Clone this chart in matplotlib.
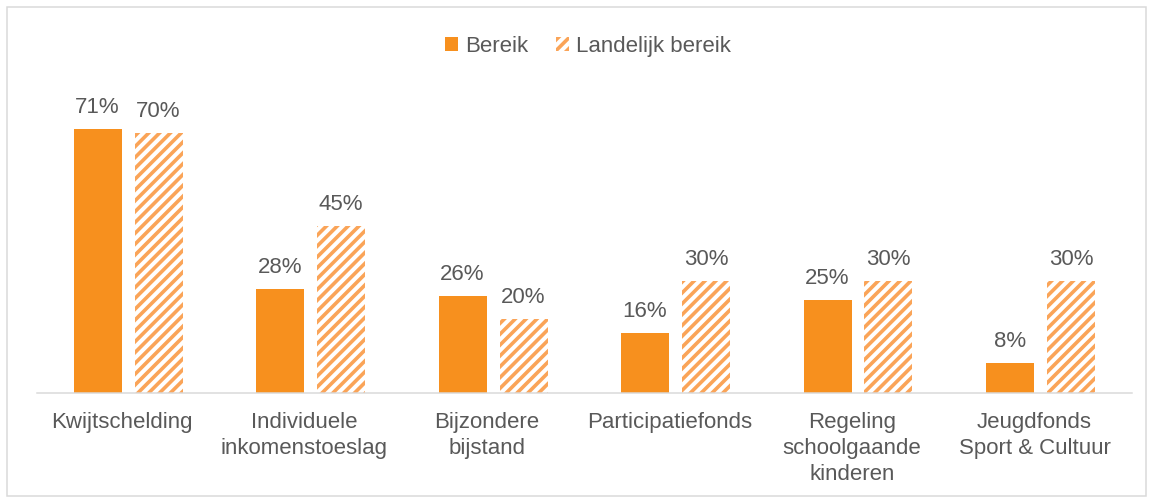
import numpy as np
import matplotlib.pyplot as plt
from matplotlib.patches import Rectangle
from matplotlib.transforms import ScaledTranslation

# --- data ---
categories = ['Kwijtschelding', 'Individuele\ninkomenstoeslag', 'Bijzondere\nbijstand',
              'Participatiefonds', 'Regeling\nschoolgaande\nkinderen', 'Jeugdfonds\nSport & Cultuur']
bereik = [71, 28, 26, 16, 25, 8]
landelijk = [70, 45, 20, 30, 30, 30]
series_names = ['Bereik', 'Landelijk bereik']

# --- style ---
DPI = 130
W, H = 1153, 503
ORANGE = '#F7901E'
HATCH = '#FAA458'
TEXT = '#595959'
GRID = '#D9D9D9'


def px(v):
    # pixels -> points at this dpi
    return v * 72 / DPI


FS = px(22.3)

plt.rcParams['font.family'] = ['Liberation Sans', 'DejaVu Sans']
plt.rcParams['hatch.linewidth'] = 2.0

fig = plt.figure(figsize=(W / DPI, H / DPI), dpi=DPI)
fig.patches.append(Rectangle((7 / W, 7 / H), 1139 / W, 489 / H, transform=fig.transFigure,
                             fill=False, edgecolor=GRID, linewidth=px(1.5)))

ax = fig.add_axes([36.75 / W, 1 - 393 / H, 1095 / W, (393 - 95.4) / H])

x = np.arange(len(categories))
bw = 48 / 182.5
off = 30.5 / 182.5
bars1 = ax.bar(x - off, bereik, bw, color=ORANGE, label=series_names[0])
bars2 = ax.bar(x + off, landelijk, bw, facecolor='white', edgecolor=HATCH, linewidth=0,
               hatch='////', label=series_names[1])

for bars, vals in [(bars1, bereik), (bars2, landelijk)]:
    for b, v in zip(bars, vals):
        ax.annotate(f'{v}%', (b.get_x() + b.get_width() / 2, b.get_height()),
                    xytext=(0, px(11)), textcoords='offset points',
                    ha='center', va='bottom', fontsize=FS, color=TEXT)

ax.set_xlim(-0.5, len(categories) - 0.5)
ax.set_ylim(0, 80)
ax.set_xticks(x)
ax.set_xticklabels(categories, fontsize=FS, color=TEXT, linespacing=1.32)
ax.tick_params(axis='x', length=0, pad=px(19))
# category labels sit a little left of the bar pair
shift = ScaledTranslation(-6 / DPI, 0, fig.dpi_scale_trans)
for lbl in ax.get_xticklabels():
    lbl.set_transform(lbl.get_transform() + shift)
ax.set_yticks([])
for s in ['top', 'left', 'right']:
    ax.spines[s].set_visible(False)
ax.spines['bottom'].set_color(GRID)
ax.spines['bottom'].set_linewidth(px(1.5))

fig.legend(loc='center', bbox_to_anchor=(588 / W, 1 - 46 / H), ncol=2, frameon=False,
           fontsize=FS, labelcolor=TEXT, handlelength=0.6, handleheight=0.6,
           handletextpad=0.3, columnspacing=1.25)

fig.savefig('out.png', dpi=DPI)
